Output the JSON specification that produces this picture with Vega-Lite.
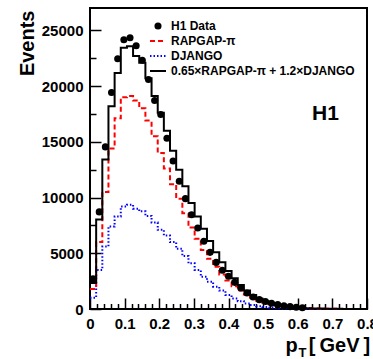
{
  "$schema": "https://vega.github.io/schema/vega-lite/v6.json",
  "width": 277,
  "height": 301,
  "autosize": "none",
  "padding": {"left": 90, "top": 8, "right": 6, "bottom": 50},
  "background": "white",
  "config": {"view": {"stroke": "black", "strokeWidth": 2}, "font": "Liberation Sans"},
  "data": {"values": [
    {"lo": 0, "mid": 0.0089, "data": 2720, "rapgap": 1800, "django": 1000, "sum": 2330},
    {"lo": 0.0178, "mid": 0.0267, "data": 8710, "rapgap": 6000, "django": 3500, "sum": 8020},
    {"lo": 0.0356, "mid": 0.0444, "data": 14540, "rapgap": 10500, "django": 5600, "sum": 13400},
    {"lo": 0.0533, "mid": 0.0622, "data": 19420, "rapgap": 14400, "django": 7400, "sum": 18190},
    {"lo": 0.0711, "mid": 0.08, "data": 22440, "rapgap": 17100, "django": 8300, "sum": 21180},
    {"lo": 0.0889, "mid": 0.0978, "data": 24150, "rapgap": 19000, "django": 9200, "sum": 23430},
    {"lo": 0.1067, "mid": 0.1156, "data": 24330, "rapgap": 19100, "django": 9350, "sum": 23570},
    {"lo": 0.1244, "mid": 0.1333, "data": 23610, "rapgap": 18700, "django": 9000, "sum": 22700},
    {"lo": 0.1422, "mid": 0.1511, "data": 22320, "rapgap": 18000, "django": 8760, "sum": 22100},
    {"lo": 0.16, "mid": 0.1689, "data": 20590, "rapgap": 16900, "django": 8350, "sum": 20700},
    {"lo": 0.1778, "mid": 0.1867, "data": 18700, "rapgap": 15500, "django": 7750, "sum": 19100},
    {"lo": 0.1956, "mid": 0.2044, "data": 17450, "rapgap": 14000, "django": 7100, "sum": 17600},
    {"lo": 0.2133, "mid": 0.2222, "data": 15320, "rapgap": 12600, "django": 6600, "sum": 16000},
    {"lo": 0.2311, "mid": 0.24, "data": 13270, "rapgap": 11200, "django": 6000, "sum": 14200},
    {"lo": 0.2489, "mid": 0.2578, "data": 11460, "rapgap": 9900, "django": 5400, "sum": 12500},
    {"lo": 0.2667, "mid": 0.2756, "data": 9900, "rapgap": 8600, "django": 4750, "sum": 11000},
    {"lo": 0.2844, "mid": 0.2933, "data": 8450, "rapgap": 7300, "django": 4100, "sum": 9500},
    {"lo": 0.3022, "mid": 0.3111, "data": 7270, "rapgap": 6300, "django": 3500, "sum": 8300},
    {"lo": 0.32, "mid": 0.3289, "data": 6070, "rapgap": 5300, "django": 2900, "sum": 7200},
    {"lo": 0.3378, "mid": 0.3467, "data": 5080, "rapgap": 4500, "django": 2450, "sum": 6100},
    {"lo": 0.3556, "mid": 0.3644, "data": 4180, "rapgap": 3800, "django": 2000, "sum": 5100},
    {"lo": 0.3733, "mid": 0.3822, "data": 3470, "rapgap": 3100, "django": 1650, "sum": 4200},
    {"lo": 0.3911, "mid": 0.4, "data": 2930, "rapgap": 2550, "django": 1250, "sum": 3400},
    {"lo": 0.4089, "mid": 0.4178, "data": 2390, "rapgap": 2050, "django": 950, "sum": 2750},
    {"lo": 0.4267, "mid": 0.4356, "data": 1890, "rapgap": 1650, "django": 700, "sum": 2150},
    {"lo": 0.4444, "mid": 0.4533, "data": 1440, "rapgap": 1300, "django": 500, "sum": 1650},
    {"lo": 0.4622, "mid": 0.4711, "data": 1080, "rapgap": 1000, "django": 350, "sum": 1250},
    {"lo": 0.48, "mid": 0.4889, "data": 840, "rapgap": 750, "django": 250, "sum": 950},
    {"lo": 0.4978, "mid": 0.5067, "data": 680, "rapgap": 560, "django": 170, "sum": 700},
    {"lo": 0.5156, "mid": 0.5244, "data": 520, "rapgap": 420, "django": 110, "sum": 500},
    {"lo": 0.5333, "mid": 0.5422, "data": 390, "rapgap": 310, "django": 80, "sum": 370},
    {"lo": 0.5511, "mid": 0.56, "data": 290, "rapgap": 230, "django": 50, "sum": 270},
    {"lo": 0.5689, "mid": 0.5778, "data": 210, "rapgap": 170, "django": 35, "sum": 190},
    {"lo": 0.5867, "mid": 0.5956, "data": 150, "rapgap": 120, "django": 25, "sum": 140},
    {"lo": 0.6044, "mid": 0.6133, "data": 110, "rapgap": 90, "django": 15, "sum": 100},
    {"lo": 0.6222, "mid": 0.6311, "data": null, "rapgap": 65, "django": 10, "sum": 70},
    {"lo": 0.64, "mid": 0.6489, "data": null, "rapgap": 45, "django": 8, "sum": 50},
    {"lo": 0.6578, "mid": 0.6667, "data": null, "rapgap": 30, "django": 5, "sum": 35},
    {"lo": 0.6756, "mid": 0.6844, "data": null, "rapgap": 20, "django": 4, "sum": 25},
    {"lo": 0.6933, "mid": 0.7022, "data": null, "rapgap": 15, "django": 3, "sum": 18},
    {"lo": 0.7111, "mid": 0.72, "data": null, "rapgap": 10, "django": 2, "sum": 12},
    {"lo": 0.7289, "mid": 0.7378, "data": null, "rapgap": 7, "django": 1, "sum": 8},
    {"lo": 0.7467, "mid": 0.7556, "data": null, "rapgap": 5, "django": 1, "sum": 5},
    {"lo": 0.7644, "mid": 0.7733, "data": null, "rapgap": 3, "django": 0, "sum": 3},
    {"lo": 0.7822, "mid": 0.7911, "data": null, "rapgap": 2, "django": 0, "sum": 2},
    {"lo": 0.8, "mid": null, "data": null, "rapgap": 2, "django": 0, "sum": 2}
  ]},
  "resolve": {"axis": {"x": "independent", "y": "independent"}},
  "layer": [
    {
      "transform": [{"fold": ["django", "rapgap", "sum"], "as": ["key", "value"]}],
      "mark": {"type": "line", "interpolate": "step-after", "strokeWidth": 2},
      "encoding": {
        "x": {
          "field": "lo", "type": "quantitative",
          "scale": {"domain": [0, 0.8], "nice": false, "zero": false},
          "axis": {
            "values": [0, 0.1, 0.2, 0.3, 0.4, 0.5, 0.6, 0.7, 0.8],
            "format": "~g", "tickSize": -11, "tickWidth": 1.5, "tickColor": "black",
            "domain": false, "grid": false,
            "labelFont": "Liberation Sans", "labelFontWeight": "bold", "labelFontSize": 15, "labelColor": "black",
            "labelPadding": 18, "labelFlush": false, "labelOverlap": false,
            "title": "p\u00a0\u00a0[\u2009GeV\u2009]", "titleFont": "Liberation Sans", "titleFontSize": 20, "titleFontWeight": "bold", "titleColor": "black",
            "titleX": 195, "titleY": 42, "titleAlign": "left", "titleBaseline": "alphabetic", "titleLimit": 0
          }
        },
        "y": {
          "field": "value", "type": "quantitative",
          "scale": {"domain": [0, 27000], "nice": false},
          "axis": {
            "values": [0, 5000, 10000, 15000, 20000, 25000],
            "format": "d", "tickSize": -11, "tickWidth": 1.5, "tickColor": "black",
            "domain": false, "grid": false,
            "labelFont": "Liberation Sans", "labelFontWeight": "bold", "labelFontSize": 15, "labelColor": "black",
            "labelPadding": 18, "labelOverlap": false,
            "title": "Events", "titleFont": "Liberation Sans", "titleFontSize": 20, "titleFontWeight": "bold", "titleColor": "black",
            "titleAngle": -90, "titleX": -63, "titleY": 2, "titleAlign": "right", "titleBaseline": "middle"
          }
        },
        "color": {
          "field": "key", "type": "nominal",
          "scale": {"domain": ["data", "rapgap", "django", "sum"], "range": ["black", "red", "blue", "black"]},
          "legend": {
            "orient": "none", "legendX": 62, "legendY": 12, "padding": 0, "title": null,
            "labelFont": "Liberation Sans", "labelFontWeight": "bold", "labelFontSize": 12, "labelColor": "black",
            "labelLimit": 0, "labelOffset": 7, "symbolSize": 225, "rowPadding": 3, "symbolType": "stroke",
            "labelExpr": "{'data': 'H1 Data', 'rapgap': 'RAPGAP-π', 'django': 'DJANGO', 'sum': '0.65×RAPGAP-π + 1.2×DJANGO'}[datum.label]",
            "encode": {
              "symbols": {
                "update": {
                  "shape": {"signal": "datum.value === 'data' ? 'circle' : 'stroke'"},
                  "size": {"signal": "datum.value === 'data' ? 50 : 256"},
                  "fill": {"signal": "datum.value === 'data' ? 'black' : 'transparent'"},
                  "stroke": {"signal": "datum.value === 'rapgap' ? 'red' : datum.value === 'django' ? 'blue' : 'black'"},
                  "strokeDash": {"signal": "datum.value === 'rapgap' ? [5, 3] : datum.value === 'django' ? [1.5, 2] : [1, 0]"},
                  "strokeWidth": {"signal": "datum.value === 'data' ? 0 : 2"},
                  "opacity": {"value": 1}
                }
              }
            }
          }
        },
        "strokeDash": {
          "field": "key", "type": "nominal",
          "scale": {"domain": ["rapgap", "django", "sum"], "range": [[5, 3], [1.5, 2], [1, 0]]},
          "legend": null
        }
      }
    },
    {
      "mark": {"type": "point", "filled": true, "size": 50, "opacity": 1},
      "encoding": {
        "x": {
          "field": "mid", "type": "quantitative",
          "axis": {
            "orient": "bottom",
            "values": [0.02, 0.04, 0.06, 0.08, 0.12, 0.14, 0.16, 0.18, 0.22, 0.24, 0.26, 0.28, 0.32, 0.34, 0.36, 0.38, 0.42, 0.44, 0.46, 0.48, 0.52, 0.54, 0.56, 0.58, 0.62, 0.64, 0.66, 0.68, 0.72, 0.74, 0.76, 0.78],
            "tickSize": -5.5, "tickWidth": 1.5, "tickColor": "black",
            "labels": false, "domain": false, "grid": false,
            "title": "T", "titleFont": "Liberation Sans", "titleFontSize": 13, "titleFontWeight": "bold", "titleColor": "black",
            "titleX": 208, "titleY": 47, "titleAlign": "left", "titleBaseline": "alphabetic"
          }
        },
        "y": {
          "field": "data", "type": "quantitative",
          "axis": {
            "orient": "left",
            "values": [2500, 7500, 12500, 17500, 22500],
            "tickSize": -6, "tickWidth": 1.5, "tickColor": "black",
            "labels": false, "domain": false, "grid": false, "title": null
          }
        },
        "color": {"datum": "data"}
      }
    },
    {
      "data": {"values": [{}]},
      "mark": {"type": "text", "text": "H1", "fontSize": 21, "fontWeight": "bold", "font": "Liberation Sans", "color": "black"},
      "encoding": {
        "x": {"datum": 0.68, "type": "quantitative", "axis": null},
        "y": {"datum": 17500, "type": "quantitative", "axis": null}
      }
    }
  ]
}
